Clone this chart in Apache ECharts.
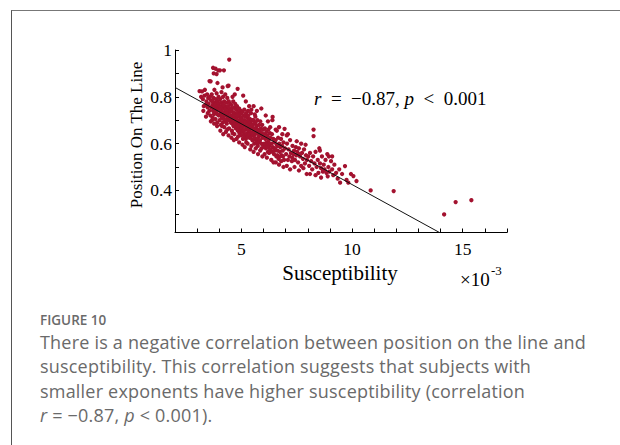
<!DOCTYPE html>
<html><head><meta charset="utf-8">
<script src="https://cdn.jsdelivr.net/npm/echarts@6/dist/echarts.min.js"></script>
<style>
html,body{margin:0;padding:0;background:#fff;width:620px;height:445px;overflow:hidden;}
#frame{position:absolute;left:11px;top:10px;width:640px;height:460px;border-top:1px solid #777;border-left:1px solid #555;}
#chart{position:absolute;left:0;top:0;width:620px;height:300px;}
#cap{position:absolute;left:40px;top:311px;color:#6a6a6a;font-family:'Open Sans',sans-serif;}
#cap .fig{font-size:13.5px;font-weight:600;line-height:18px;}
#cap .txt{font-size:18px;line-height:24.3px;margin-top:1px;letter-spacing:0.2px;}
</style></head>
<body>
<div id="frame"></div>
<div id="chart"></div>
<div id="cap"><div class="fig">FIGURE 10</div>
<div class="txt">There is a negative correlation between position on the line and<br>susceptibility. This correlation suggests that subjects with<br>smaller exponents have higher susceptibility (correlation<br><i>r</i> = −0.87, <i>p</i> &lt; 0.001).</div></div>
<script>
// x: susceptibility (×10^-3), y: position on the line
const scatterPoints = [
[3.11,0.824],[3.18,0.80],[3.22,0.823],[3.26,0.79],[3.3,0.76],[3.35,0.83],[3.28,0.74],[3.4,0.715],[3.42,0.78],[3.45,0.81],[3.38,0.765],[3.48,0.73],[3.5,0.795],[3.47,0.755],[3.33,0.805],
[3.56,0.867],[3.72,0.924],[3.83,0.92],[3.95,0.913],[3.75,0.90],[3.88,0.897],[3.61,0.866],[3.92,0.859],
[3.52,0.77],[3.55,0.74],[3.58,0.80],[3.6,0.72],[3.62,0.785],[3.65,0.755],[3.66,0.81],[3.68,0.70],[3.7,0.765],[3.72,0.74],[3.74,0.795],[3.76,0.725],[3.78,0.83],[3.8,0.775],[3.81,0.75],[3.83,0.705],[3.85,0.79],[3.86,0.735],[3.88,0.815],[3.9,0.76],[3.91,0.69],[3.93,0.78],[3.95,0.745],[3.97,0.80],[3.98,0.72],[3.63,0.755],[3.69,0.78],[3.84,0.765],[3.96,0.77],
[3.62,0.695],[3.77,0.685],[3.9,0.675],[3.7,0.71],[3.75,0.755],[3.82,0.735],[3.92,0.725],[3.99,0.75],
[4.03,0.913],[4.21,0.913],[4.45,0.959],[4.42,0.848],[4.38,0.846],[4.15,0.84],
[4.01,0.76],[4.02,0.70],[4.04,0.79],[4.06,0.735],[4.07,0.68],[4.08,0.775],[4.1,0.82],[4.11,0.745],[4.12,0.71],[4.14,0.765],[4.16,0.69],[4.17,0.80],[4.18,0.75],[4.2,0.725],[4.22,0.78],[4.23,0.67],[4.25,0.76],[4.26,0.735],[4.27,0.81],[4.29,0.70],[4.3,0.755],[4.32,0.775],[4.33,0.72],[4.34,0.685],[4.36,0.795],[4.37,0.745],[4.39,0.76],[4.4,0.705],[4.41,0.73],[4.43,0.78],[4.44,0.665],[4.46,0.75],[4.47,0.715],[4.49,0.77],[4.05,0.755],[4.13,0.73],[4.19,0.765],[4.28,0.745],[4.35,0.74],[4.48,0.735],[4.09,0.72],[4.24,0.695],[4.31,0.73],
[4.05,0.655],[4.18,0.64],[4.3,0.65],[4.42,0.635],[4.12,0.675],[4.36,0.66],
[4.02,0.745],[4.08,0.73],[4.15,0.715],[4.22,0.705],[4.27,0.72],[4.33,0.70],[4.38,0.715],[4.45,0.70],
[4.83,0.834],[4.7,0.81],[4.6,0.80],
[4.51,0.74],[4.52,0.69],[4.54,0.765],[4.55,0.72],[4.57,0.655],[4.58,0.75],[4.6,0.70],[4.61,0.735],[4.63,0.78],[4.64,0.675],[4.65,0.715],[4.67,0.755],[4.68,0.64],[4.69,0.73],[4.71,0.695],[4.72,0.77],[4.74,0.71],[4.75,0.665],[4.76,0.745],[4.78,0.685],[4.79,0.725],[4.8,0.76],[4.82,0.70],[4.84,0.655],[4.85,0.735],[4.87,0.68],[4.88,0.715],[4.9,0.75],[4.91,0.645],[4.92,0.695],[4.94,0.725],[4.95,0.67],[4.97,0.705],[4.98,0.74],[4.99,0.635],[4.56,0.70],[4.62,0.72],[4.73,0.705],[4.81,0.72],[4.89,0.695],[4.66,0.685],[4.77,0.70],[4.93,0.68],
[4.55,0.625],[4.66,0.615],[4.78,0.62],[4.9,0.605],[4.6,0.645],[4.85,0.63],
[4.5,0.715],[4.53,0.705],[4.59,0.685],[4.64,0.695],[4.7,0.68],[4.76,0.67],[4.83,0.675],[4.86,0.66],[4.96,0.655],
[5.08,0.805],[5.2,0.78],[5.35,0.76],[5.3,0.74],[5.6,0.725],[5.45,0.745],
[5.01,0.71],[5.02,0.665],[5.04,0.735],[5.05,0.69],[5.07,0.62],[5.09,0.72],[5.1,0.675],[5.12,0.70],[5.13,0.745],[5.15,0.64],[5.16,0.685],[5.18,0.715],[5.19,0.66],[5.21,0.73],[5.22,0.605],[5.24,0.695],[5.25,0.67],[5.27,0.71],[5.28,0.645],[5.3,0.685],[5.31,0.72],[5.33,0.655],[5.34,0.70],[5.36,0.625],[5.37,0.675],[5.39,0.705],[5.4,0.65],[5.42,0.69],[5.43,0.73],[5.45,0.635],[5.46,0.665],[5.48,0.70],[5.49,0.615],[5.06,0.68],[5.17,0.69],[5.26,0.68],[5.38,0.665],[5.47,0.675],
[5.05,0.595],[5.15,0.585],[5.28,0.60],[5.4,0.575],[5.2,0.62],[5.45,0.59],
[5.03,0.65],[5.11,0.655],[5.14,0.63],[5.23,0.64],[5.29,0.63],[5.35,0.64],[5.41,0.625],
[5.55,0.76],[5.7,0.74],[5.9,0.75],
[5.51,0.68],[5.52,0.635],[5.54,0.70],[5.56,0.655],[5.58,0.60],[5.6,0.685],[5.62,0.64],[5.63,0.715],[5.65,0.665],[5.67,0.62],[5.69,0.675],[5.71,0.645],[5.72,0.70],[5.74,0.59],[5.76,0.66],[5.78,0.63],[5.8,0.68],[5.81,0.61],[5.83,0.655],[5.85,0.695],[5.86,0.64],[5.88,0.665],[5.9,0.60],[5.92,0.645],[5.94,0.68],[5.96,0.625],[5.98,0.66],[5.57,0.665],[5.66,0.65],[5.77,0.645],[5.89,0.635],[5.64,0.69],
[5.55,0.565],[5.65,0.58],[5.75,0.555],[5.85,0.57],[5.95,0.545],[5.7,0.60],
[5.5,0.645],[5.53,0.615],[5.59,0.625],[5.68,0.61],[5.73,0.62],[5.79,0.605],[5.84,0.615],[5.91,0.58],[5.97,0.595],
[6.40,0.70],[6.41,0.714],[6.2,0.695],[6.1,0.72],[6.3,0.67],
[6.02,0.64],[6.04,0.60],[6.06,0.665],[6.08,0.62],[6.11,0.58],[6.13,0.65],[6.15,0.605],[6.18,0.635],[6.2,0.565],[6.22,0.66],[6.24,0.615],[6.27,0.59],[6.29,0.645],[6.31,0.625],[6.33,0.57],[6.36,0.60],[6.38,0.64],[6.42,0.585],[6.44,0.62],[6.47,0.555],[6.49,0.605],[6.26,0.60],[6.16,0.63],
[6.05,0.555],[6.15,0.54],[6.25,0.56],[6.35,0.53],[6.45,0.52],
[6.03,0.585],[6.12,0.595],[6.19,0.585],[6.3,0.575],[6.4,0.565],
[6.95,0.663],[6.55,0.66],[6.7,0.67],[6.6,0.655],[6.85,0.64],
[6.52,0.58],[6.55,0.615],[6.58,0.545],[6.6,0.595],[6.63,0.57],[6.66,0.625],[6.68,0.535],[6.71,0.60],[6.74,0.565],[6.76,0.585],[6.79,0.62],[6.82,0.55],[6.84,0.59],[6.87,0.57],[6.9,0.605],[6.93,0.53],[6.97,0.58],[6.65,0.59],
[6.55,0.52],[6.7,0.51],[6.8,0.525],[6.9,0.50],[6.5,0.57],[6.62,0.55],[6.75,0.545],[6.88,0.545],
[7.02,0.555],[7.06,0.60],[7.1,0.53],[7.13,0.575],[7.17,0.545],[7.2,0.615],[7.24,0.56],[7.28,0.525],[7.31,0.59],[7.35,0.555],[7.38,0.57],[7.42,0.53],[7.46,0.585],[7.1,0.64],[7.3,0.54],[7.48,0.55],
[7.05,0.505],[7.2,0.49],[7.4,0.50],[7.05,0.635],[7.5,0.61],
[7.52,0.565],[7.56,0.52],[7.6,0.58],[7.65,0.545],[7.7,0.505],[7.74,0.56],[7.78,0.535],[7.83,0.575],[7.87,0.515],[7.92,0.55],[7.96,0.53],[7.62,0.555],
[7.6,0.485],[7.8,0.495],[7.95,0.47],[7.7,0.60],[7.9,0.595],
[8.26,0.66],[8.26,0.632],[8.02,0.545],[8.06,0.505],[8.1,0.56],[8.15,0.525],[8.2,0.49],[8.24,0.545],[8.3,0.515],[8.35,0.565],[8.4,0.50],[8.45,0.53],[8.48,0.475],
[8.1,0.47],[8.35,0.465],[8.6,0.455],[8.9,0.46],[8.55,0.57],[8.95,0.545],
[8.52,0.58],[8.55,0.515],[8.6,0.495],[8.64,0.545],[8.68,0.48],[8.72,0.51],[8.76,0.49],[8.8,0.53],[8.84,0.475],[8.88,0.555],[8.93,0.50],[8.97,0.48],[8.7,0.485],
[9.05,0.525],[9.1,0.49],[9.15,0.465],[9.2,0.51],[9.28,0.475],[9.35,0.45],[9.42,0.49],[9.46,0.433],[9.55,0.47],[9.68,0.504],[9.75,0.445],[9.83,0.433],[9.95,0.47],[10.06,0.461],[10.2,0.44],[9.1,0.545],
[10.84,0.40],[11.88,0.397],[14.16,0.297],[14.68,0.35],[15.39,0.358]
];
const fitLine = [[2,0.84],[13.95,0.22]];
const xTicks = [2,3,4,5,6,7,8,9,10,11,12,13,14,15,16,17];
const xLabels = [5,10,15];
const yTicks = [0.3,0.4,0.5,0.6,0.7,0.8,0.9,1.0];
const yLabels = [0.4,0.6,0.8,1.0];

const serif = "'Liberation Serif','Times New Roman',serif";
const chart = echarts.init(document.getElementById('chart'), null, {renderer:'svg'});
chart.setOption({
  animation:false,
  grid:{left:175,top:50,width:332,height:182.5,outerBoundsMode:'none',containLabel:false},
  xAxis:{type:'value',min:2,max:17,interval:1,
    axisLine:{onZero:false,lineStyle:{color:'#000',width:1}},
    axisTick:{inside:true,length:4,lineStyle:{color:'#000'},customValues:xTicks},
    axisLabel:{customValues:xLabels,color:'#000',fontFamily:serif,fontSize:17.5,margin:7},
    splitLine:{show:false}},
  yAxis:{type:'value',min:0.22,max:1,
    axisLine:{show:true,onZero:false,lineStyle:{color:'#000',width:1}},
    axisTick:{show:true,inside:true,length:4,lineStyle:{color:'#000'},customValues:yTicks},
    axisLabel:{customValues:yLabels,color:'#000',fontFamily:serif,fontSize:17.5,margin:3,
      formatter:v=>Math.abs(v-1)<1e-9?'1':v.toFixed(1)},
    splitLine:{show:false}},
  series:[
    {type:'scatter',data:scatterPoints,symbol:'circle',symbolSize:4.3,
      itemStyle:{color:'#a3122f',opacity:1},z:2},
    {type:'line',data:fitLine,symbol:'none',lineStyle:{color:'#111',width:1},z:3}
  ],
  graphic:[
    {type:'text',left:314,top:89,style:{
      text:'{i|r}\u2002=\u2002−0.87, {i|p}\u2002<\u20020.001',fill:'#000',font:"19px 'Liberation Serif'",
      rich:{i:{fontStyle:'italic',fontFamily:serif,fontSize:19}}}},
    {type:'text',x:340,y:273,style:{text:'Susceptibility',fill:'#000',
      font:"21px 'Liberation Serif'",align:'center',verticalAlign:'middle'}},
    {type:'text',x:460,y:279,style:{text:'×10',fill:'#000',
      font:"19px 'Liberation Serif'",align:'left',verticalAlign:'middle'}},
    {type:'text',x:491,y:270,style:{text:'-3',fill:'#000',
      font:"13px 'Liberation Serif'",align:'left',verticalAlign:'middle'}},
    {type:'text',x:136,y:135,rotation:Math.PI/2,style:{text:'Position On The Line',fill:'#000',
      font:"17px 'Liberation Serif'",align:'center',verticalAlign:'middle'}}
  ]
});
</script>
</body></html>
